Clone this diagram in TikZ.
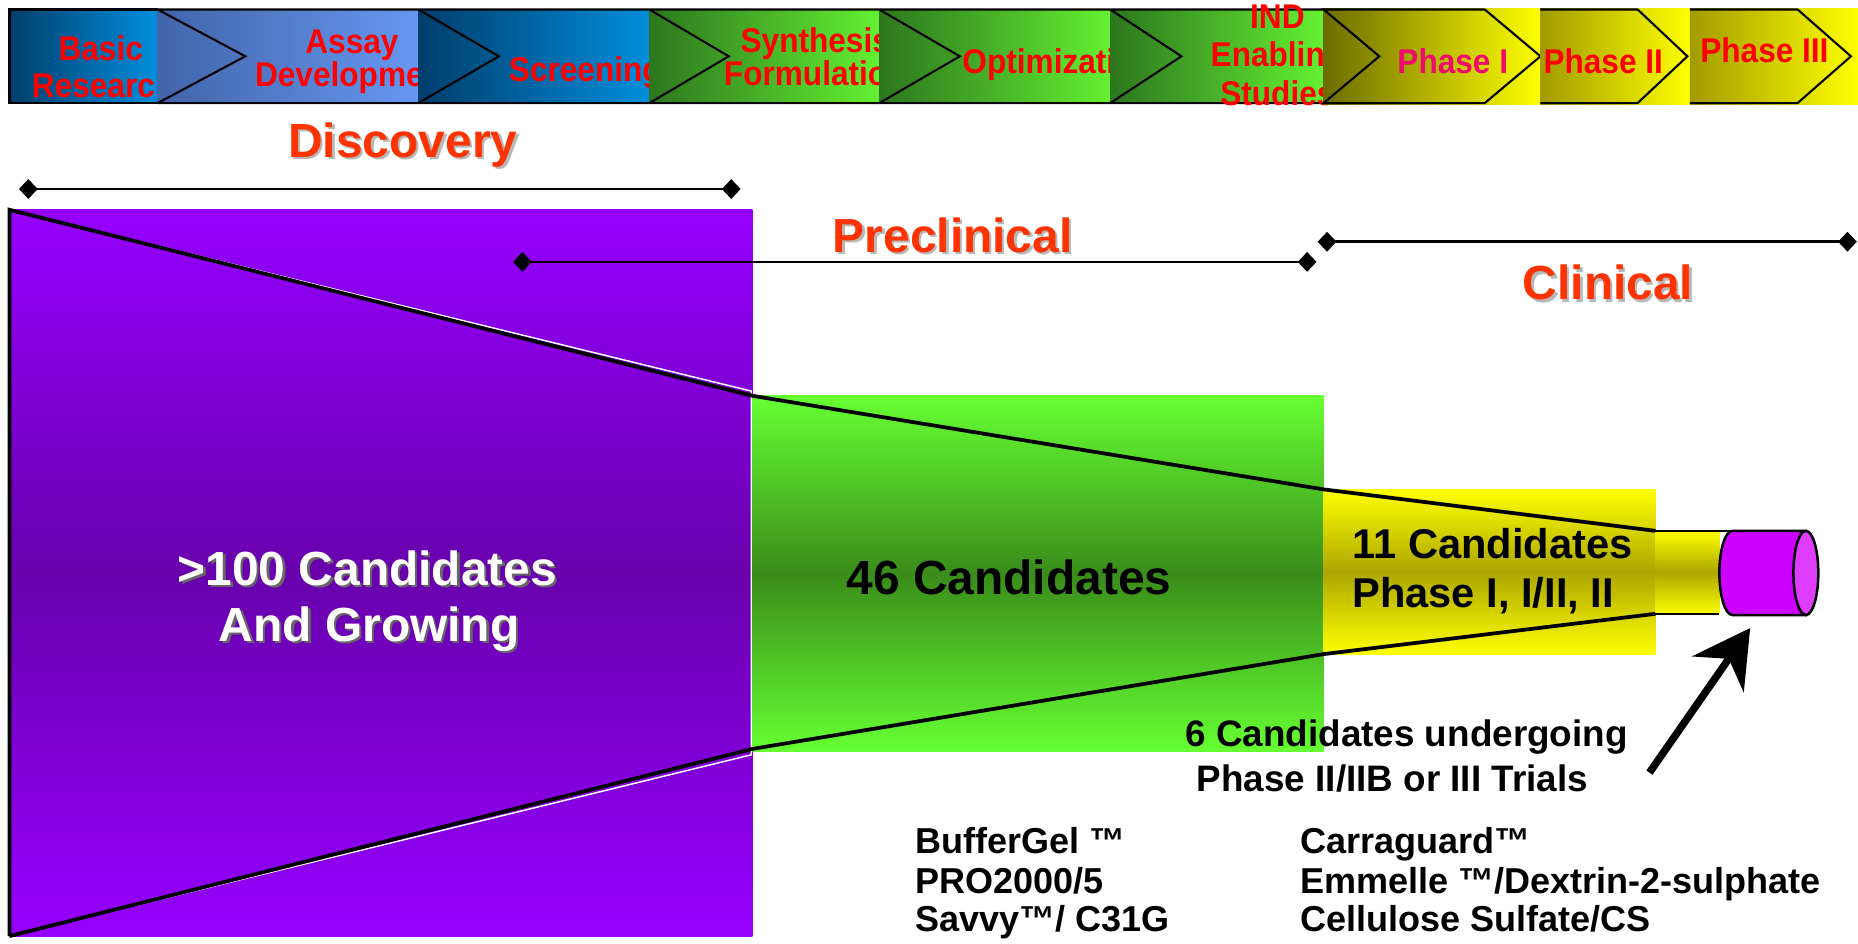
\documentclass[tikz,border=0pt]{standalone}
\usepackage{fontspec}
\setmainfont{Liberation Sans}
\newfontfamily\barfont[FakeStretch=0.92]{Liberation Sans}
\usetikzlibrary{arrows.meta}

\definecolor{barred}{RGB}{255,0,0}
\definecolor{phasepink}{RGB}{240,10,110}
\definecolor{titleorange}{RGB}{255,51,0}
\definecolor{navyL}{RGB}{0,62,108}
\definecolor{navyR}{RGB}{0,142,220}
\definecolor{assayL}{RGB}{66,100,170}
\definecolor{assayR}{RGB}{102,152,240}
\definecolor{greenL}{RGB}{45,118,30}
\definecolor{greenR}{RGB}{100,240,50}
\definecolor{oliveL}{RGB}{108,108,0}
\definecolor{oliveM}{RGB}{162,155,0}
\definecolor{purpleTop}{RGB}{150,0,255}
\definecolor{purpleMid}{RGB}{104,0,172}
\definecolor{greenTop}{RGB}{102,255,51}
\definecolor{greenMid}{RGB}{58,140,26}
\definecolor{yellowTop}{RGB}{255,255,0}
\definecolor{yellowMid}{RGB}{172,166,0}
\definecolor{cylBody}{RGB}{204,0,255}
\definecolor{cylFace}{RGB}{222,60,255}

\begin{document}
\begin{tikzpicture}[x=0.02cm,y=-0.02cm,
    bartext/.style={font=\barfont\bfseries\fontsize{16.5}{18}\selectfont,text=barred,anchor=base,inner sep=0pt},
    stagetitle/.style={font=\bfseries\fontsize{23}{26}\selectfont,text=titleorange,anchor=base,inner sep=0pt},
    titleshadow/.style={stagetitle,text=black!28},
    bigtext/.style={font=\bfseries\fontsize{23}{26}\selectfont,anchor=base,inner sep=0pt},
    midtext/.style={font=\bfseries\fontsize{20}{22}\selectfont,anchor=base west,inner sep=0pt},
    notetext/.style={font=\bfseries\fontsize{17.7}{20}\selectfont,anchor=base,inner sep=0pt},
    listtext/.style={font=\bfseries\fontsize{17.3}{20}\selectfont,anchor=base west,inner sep=0pt},
    chev/.style={line width=1pt},
    funnel/.style={line width=1.8pt},
    spanline/.style={line width=1.2pt,{Diamond[length=9pt,width=9.5pt]}-{Diamond[length=9pt,width=9.5pt]}}]
    \useasboundingbox (0,0) rectangle (1568,796);

    % Stage bar: basic research
    \fill[left color=navyL,right color=navyR] (8,8) rectangle (133,87);
    \draw[chev] (133,8) -- (8,8) -- (8,87) -- (133,87);
    \node[bartext] (basicA) at (85,51) {Basic};
    \node[bartext] (basicB) at (87,82) {Research};
    % assay development
    \fill[left color=assayL,right color=assayR] (133,8) rectangle (353,87);
    \draw[chev] (133,8) -- (353,8) (133,87) -- (353,87) (133,8) -- (207,47.5) -- (133,87);
    \node[bartext] (assayA) at (297,45) {Assay};
    \node[bartext] (assayB) at (299,73) {Development};
    % screening
    \fill[left color=navyL,right color=navyR] (353,8) rectangle (548,87);
    \draw[chev] (353,8) -- (548,8) (353,87) -- (548,87) (353,8) -- (421,47.5) -- (353,87);
    \node[bartext] (screen) at (494,69) {Screening};
    % synthesis / formulation
    \fill[left color=greenL,right color=greenR] (548,8) rectangle (742,87);
    \draw[chev] (548,8) -- (742,8) (548,87) -- (742,87) (548,8) -- (615,47.5) -- (548,87);
    \node[bartext] (synthA) at (688,44) {Synthesis};
    \node[bartext] (synthB) at (688,72) {Formulation};
    % optimization
    \fill[left color=greenL,right color=greenR] (742,8) rectangle (937,87);
    \draw[chev] (742,8) -- (937,8) (742,87) -- (937,87) (742,8) -- (810,47.5) -- (742,87);
    \node[bartext] (optim) at (893,62) {Optimization};
    % IND enabling studies
    \fill[left color=greenL,right color=greenR] (937,8) rectangle (1117,87);
    \draw[chev] (937,8) -- (1117,8) (937,87) -- (1117,87) (937,8) -- (997,47.5) -- (937,87);
    \node[bartext] (indA) at (1078,24) {IND};
    \node[bartext] (indB) at (1078,56) {Enabling};
    \node[bartext] (indC) at (1078,89) {Studies};
    % clinical phases
    \fill[left color=oliveL,right color=yellowTop] (1117,7) rectangle (1300,88);
    \draw[chev] (1117,8) -- (1253,8) -- (1300,47.5) -- (1253,87) -- (1117,87) -- (1164,47.5) -- cycle;
    \node[bartext,text=phasepink] (phaseA) at (1226,62) {Phase I};
    \fill[left color=oliveM,right color=yellowTop] (1300,7) rectangle (1426,88);
    \draw[chev] (1300,8) -- (1382,8) -- (1424,47.5) -- (1382,87) -- (1300,87);
    \node[bartext] (phaseB) at (1353,62) {Phase II};
    \fill[left color=oliveM,right color=yellowTop] (1426,7) rectangle (1568,88);
    \draw[chev] (1426,8) -- (1517,8) -- (1562,47.5) -- (1517,87) -- (1426,87);
    \node[bartext] (phaseC) at (1489,53) {Phase III};

    % Funnel corners
    \coordinate (fTL) at (8,177);
    \coordinate (fTA) at (635,334);
    \coordinate (fTB) at (1117,413);
    \coordinate (fTC) at (1397,448);
    \coordinate (fBL) at (8,790);
    \coordinate (fBA) at (635,632);
    \coordinate (fBB) at (1117,552);
    \coordinate (fBC) at (1397,518);
    \coordinate (tubeEnd) at (1451,518);
    \coordinate (cylTop) at (1462,448);
    \coordinate (cylR) at (1524,483.5);

    % Candidate blocks
    \fill[top color=purpleTop,bottom color=purpleTop,middle color=purpleMid] (8,177) rectangle (635,790);
    \fill[top color=greenTop,bottom color=greenTop,middle color=greenMid] (635,334) rectangle (1117,634);
    \fill[top color=yellowTop,bottom color=yellowTop,middle color=yellowMid] (1117,413) rectangle (1397,552);
    \fill[top color=yellowTop,bottom color=yellowTop,middle color=yellowMid] (1397,448) rectangle (1451,518);

    % Funnel outline
    \draw[white,line width=0.7pt] (fTL) -- (634,330) -- (634,637) -- (fBL);
    \draw[funnel] (fBL) -- (fTL) -- (fTA) -- (fTB) -- (fTC);
    \draw[funnel] (fBL) -- (fBA) -- (fBB) -- (fBC);
    \draw[line width=1.2pt] (fTC) -- (cylTop);
    \draw[line width=1.2pt] (fBC) -- (tubeEnd);

    % Cylinder
    \filldraw[fill=cylBody,line width=1.2pt] (cylTop) -- (1524,448) -- (1524,519) -- (1462,519)
        .. controls (1455.9,519) and (1451,503.1) .. (1451,483.5)
        .. controls (1451,463.9) and (1455.9,448) .. (cylTop) -- cycle;
    \filldraw[fill=cylFace,line width=1.2pt] (cylR) ellipse [x radius=10.5, y radius=35.5];

    % Stage spans
    \coordinate (discL) at (16,159.5);
    \coordinate (discR) at (625,159.5);
    \coordinate (preL) at (433,221);
    \coordinate (preR) at (1111,221);
    \coordinate (clinL) at (1112,204);
    \coordinate (clinR) at (1567,204);
    \draw[spanline] (discL) -- (discR);
    \draw[spanline] (preL) -- (preR);
    \draw[spanline] (clinL) -- (clinR);

    \node[titleshadow] (discS) at (342,135) {Discovery};
    \node[stagetitle] (disc) at (340,133) {Discovery};
    \node[titleshadow] (preS) at (806,215) {Preclinical};
    \node[stagetitle] (pre) at (804,213) {Preclinical};
    \node[titleshadow] (clinS) at (1359,255) {Clinical};
    \node[stagetitle] (clin) at (1357,253) {Clinical};

    % Candidate counts
    \node[bigtext,text=black!60] (hundredS) at (312,496) {>100 Candidates};
    \node[bigtext,text=white] (hundredA) at (310,494) {>100 Candidates};
    \node[bigtext,text=black!60] (growS) at (313.5,543) {And Growing};
    \node[bigtext,text=white] (hundredB) at (311.5,541) {And Growing};
    \node[bigtext] (fortysix) at (851.5,502) {46 Candidates};
    \node[midtext] (elevenA) at (1141,471) {11 Candidates};
    \node[midtext] (elevenB) at (1141,513) {Phase I, I/II, II};
    \node[notetext] (sixA) at (1187,630) {6 Candidates undergoing};
    \node[notetext] (sixB) at (1175,668) {Phase II/IIB or III Trials};

    % Pointer to the six candidates
    \coordinate (arrTail) at (1392,652);
    \coordinate (arrTip) at (1477,530);
    \draw[line width=3.6pt,-{Stealth[length=27pt,width=30pt,inset=9pt]}] (arrTail) -- (arrTip);

    % Product list
    \node[listtext] (prodA) at (772,720) {BufferGel ™};
    \node[listtext] (prodB) at (772,754) {PRO2000/5};
    \node[listtext] (prodC) at (772,786) {Savvy™/ C31G};
    \node[listtext] (prodD) at (1097,720) {Carraguard™};
    \node[listtext] (prodE) at (1097,754) {Emmelle ™/Dextrin-2-sulphate};
    \node[listtext] (prodF) at (1097,786) {Cellulose Sulfate/CS};
\end{tikzpicture}
\end{document}
